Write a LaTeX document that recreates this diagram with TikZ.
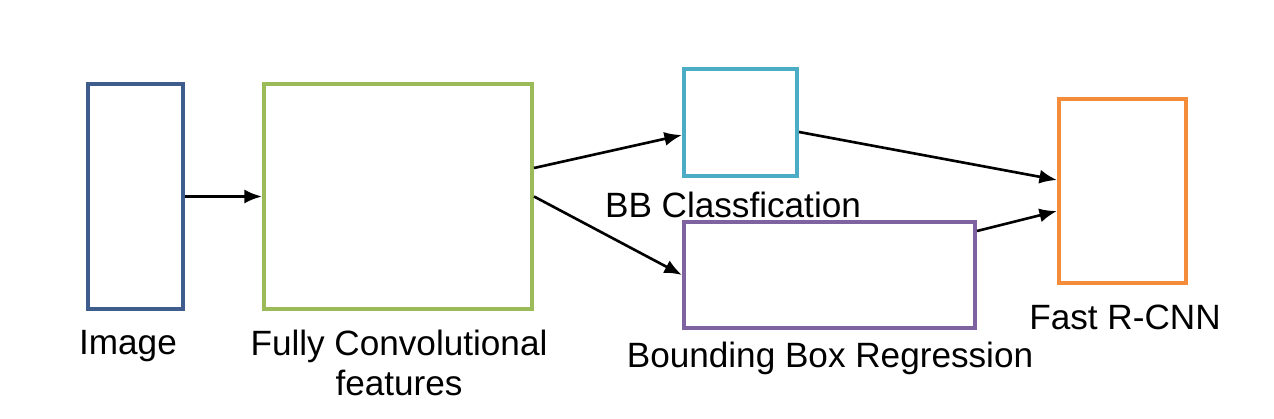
\documentclass[tikz,border=0pt]{standalone}
\usepackage{fontspec}
\setmainfont{Liberation Sans}
\usetikzlibrary{arrows.meta}
\definecolor{imgblue}{HTML}{3F5D8C}
\definecolor{convgreen}{HTML}{9BBB59}
\definecolor{clsteal}{HTML}{4BACC6}
\definecolor{regpurple}{HTML}{7F62A0}
\definecolor{rcnnorange}{HTML}{F48C3C}
\begin{document}
\begin{tikzpicture}[font=\fontsize{20}{22.7}\selectfont,
	box/.style={draw,line width=2.3pt,inner sep=0pt},
	link/.style={line width=1.5pt,-{Latex[length=10pt,width=8pt]}}]
	\useasboundingbox (0,0) rectangle (25.48,-8.38);
	% boxes
		\node[box,imgblue,minimum width=1.9cm,minimum height=4.5cm] (image) at (2.71,-3.93) {};
		\node[box,convgreen,minimum width=5.36cm,minimum height=4.5cm] (conv) at (7.96,-3.93) {};
		\node[box,clsteal,minimum width=2.26cm,minimum height=2.14cm] (cls) at (14.81,-2.45) {};
		\node[box,regpurple,minimum width=5.82cm,minimum height=2.12cm] (reg) at (16.59,-5.5) {};
		\node[box,rcnnorange,minimum width=2.54cm,minimum height=3.68cm] (rcnn) at (22.45,-3.82) {};
	% labels
		\node (imagelabel) at (2.56,-6.92) {Image};
		\node[align=center] (convlabel) at (7.98,-7.26) {Fully Convolutional\\features};
		\node (clslabel) at (14.66,-4.1) {BB Classfication};
		\node (reglabel) at (16.6,-7.16) {Bounding Box Regression};
		\node (rcnnlabel) at (22.5,-6.34) {Fast R-CNN};
	% connections
		\draw[link] (image.east) -- (conv.west);
		\draw[link] ([yshift=0.57cm]conv.east) -- ([yshift=-0.25cm]cls.west);
		\draw[link] (conv.east) -- (reg.west);
		\draw[link] ([yshift=-0.19cm]cls.east) -- ([yshift=0.22cm]rcnn.west);
		\draw[link] ([yshift=-0.22cm]reg.north east) -- ([yshift=-0.4cm]rcnn.west);
\end{tikzpicture}
\end{document}
